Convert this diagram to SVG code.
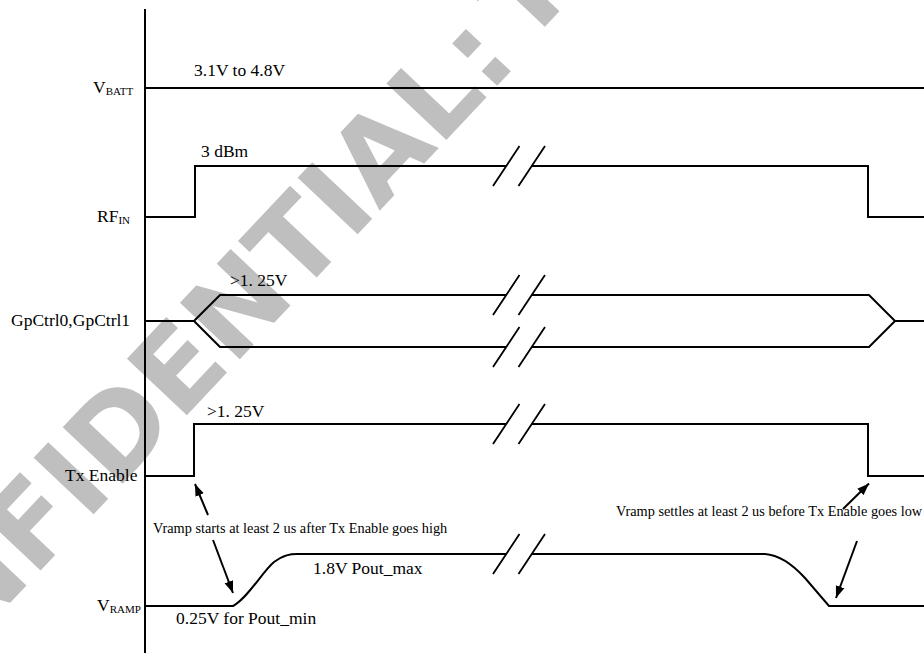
<svg xmlns="http://www.w3.org/2000/svg" width="924" height="653" viewBox="0 0 924 653">
<style>
.sig{fill:none;stroke:#000;stroke-width:2}
.brk{fill:none;stroke:#000;stroke-width:1.8}
.lbl{font-family:"Liberation Serif","Times New Roman",serif;font-size:17.5px;fill:#000}
.sub{font-size:11px}
.note{font-family:"Liberation Serif","Times New Roman",serif;font-size:14.3px;fill:#000}
.wm{font-family:"DejaVu Sans",sans-serif;font-weight:bold;font-size:113px;fill:#bfbfbf}
.arr{fill:none;stroke:#000;stroke-width:2}
</style>
<defs>
<marker id="ah" markerUnits="userSpaceOnUse" markerWidth="13" markerHeight="10" refX="12" refY="5" orient="auto">
<path d="M0,0.5 L12,5 L0,9.5 z" fill="#000"/>
</marker>
</defs>
<rect width="924" height="653" fill="#fff"/>
<text class="wm" transform="translate(-154,777) rotate(-46.7)">CONFIDENTIAL: <tspan dx="-24" dy="-6">TI</tspan></text>

<g id="axis"><line class="sig" x1="145" y1="9" x2="145" y2="653"/></g>

<g id="vbatt">
<text class="lbl" x="93" y="93">V<tspan class="sub" dy="1.5">BATT</tspan></text>
<line class="sig" x1="145" y1="88" x2="924" y2="88"/>
<text class="lbl" x="194" y="76">3.1V to 4.8V</text>
</g>

<g id="rfin">
<text class="lbl" x="97" y="222">RF<tspan class="sub" dy="2">IN</tspan></text>
<path class="sig" d="M145,217 H195 V166 H506 M532,166 H868 V217 H924"/>
<path class="brk" d="M493,186 L519.5,146 M518.5,186 L545,146"/>
<text class="lbl" x="201" y="157">3 dBm</text>
</g>

<g id="gpctrl">
<text class="lbl" x="11" y="325.5">GpCtrl0,GpCtrl1</text>
<path class="sig" d="M145,321 H194 L220,295 H506 M532,295 H869 L895,321 H924 M194,321 L220,347 H506 M532,347 H869 L895,321"/>
<path class="brk" d="M493,315 L519.5,275 M518.5,315 L545,275 M493,367 L519.5,327 M518.5,367 L545,327"/>
<text class="lbl" x="230" y="285.5">&gt;1. 25V</text>
</g>

<g id="txen">
<text class="lbl" x="65" y="481">Tx Enable</text>
<path class="sig" d="M145,476 H194 V424 H506 M532,424 H868 V476 H924"/>
<path class="brk" d="M493,444 L519.5,404 M518.5,444 L545,404"/>
<text class="lbl" x="207" y="416.5">&gt;1. 25V</text>
</g>

<g id="vramp">
<text class="lbl" x="97" y="611">V<tspan class="sub" dy="1.5">RAMP</tspan></text>
<path class="sig" d="M145,606 H233 C248,598 262,572 274,562 C284,555 290,554 297,554 H506 M532,554 H765 C780,555 794,566 805,578 L829,606 H924"/>
<path class="brk" d="M493,574 L519.5,534 M518.5,574 L545,534"/>
<text class="lbl" x="313" y="574">1.8V Pout_max</text>
<text class="lbl" x="176" y="624">0.25V for Pout_min</text>
</g>

<g id="notes">
<text class="note" x="153" y="533">Vramp starts at least 2 us after Tx Enable goes high</text>
<text class="note" x="616" y="516">Vramp settles at least 2 us before Tx Enable goes low</text>
</g>

<g id="connectors">
<line class="arr" x1="208" y1="515" x2="195" y2="484" marker-end="url(#ah)"/>
<line class="arr" x1="213" y1="540" x2="233" y2="593" marker-end="url(#ah)"/>
<line class="arr" x1="843" y1="509" x2="869" y2="483.5" marker-end="url(#ah)"/>
<line class="arr" x1="857" y1="541" x2="836" y2="598" marker-end="url(#ah)"/>
</g>
</svg>
